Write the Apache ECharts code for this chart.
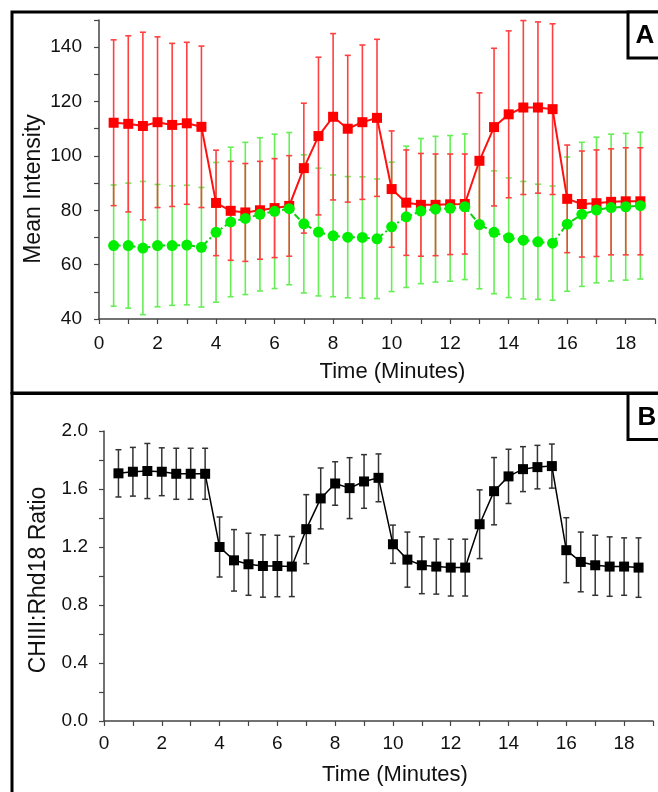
<!DOCTYPE html>
<html>
<head>
<meta charset="utf-8">
<script src="https://cdn.jsdelivr.net/npm/echarts@6/dist/echarts.min.js"></script>
<style>
  html, body { margin: 0; padding: 0; background: #fff; }
  #chart { width: 658px; height: 792px; }
</style>
</head>
<body>
<div id="chart"></div>
<script>
// time points (minutes)
const time = [0.5, 1, 1.5, 2, 2.5, 3, 3.5, 4, 4.5, 5, 5.5, 6, 6.5, 7, 7.5, 8, 8.5, 9, 9.5,
  10, 10.5, 11, 11.5, 12, 12.5, 13, 13.5, 14, 14.5, 15, 15.5, 16, 16.5, 17, 17.5, 18, 18.5];

// panel A - red (squares)
const redMean = [112.2, 111.8, 111.0, 112.4, 111.4, 112.0, 110.7, 82.7, 79.8, 79.2, 80.0, 80.8, 81.6,
  95.5, 107.3, 114.4, 110.0, 112.4, 114.0, 87.8, 82.8, 82.0, 82.0, 82.2, 82.3, 98.2, 110.6,
  115.3, 117.8, 117.8, 117.2, 84.2, 82.3, 82.6, 83.1, 83.3, 83.3];
const redErr = [30.5, 32.4, 34.5, 31.4, 30.0, 29.8, 29.7, 19.4, 18.2, 18.0, 18.0, 18.2, 18.5,
  23.9, 29.0, 30.6, 27.0, 28.4, 28.9, 21.4, 19.4, 18.9, 18.7, 18.5, 18.4, 25.0, 29.0,
  30.7, 32.0, 31.5, 31.4, 19.8, 19.5, 19.6, 19.5, 19.7, 19.7];

// panel A - green (circles)
const greenMean = [67.0, 67.0, 66.1, 67.0, 67.0, 67.2, 66.4, 71.9, 75.7, 77.0, 78.5, 79.6, 80.6,
  75.0, 72.0, 70.6, 70.1, 70.0, 69.5, 73.9, 77.6, 79.7, 80.4, 80.7, 81.3, 74.8, 71.9,
  69.9, 69.0, 68.4, 67.9, 74.9, 78.5, 80.1, 81.0, 81.3, 81.7];
const greenErr = [22.3, 23.0, 24.5, 22.5, 22.0, 22.0, 22.0, 25.7, 27.5, 28.0, 28.2, 28.4, 28.0,
  25.4, 23.5, 22.4, 22.3, 22.3, 22.0, 23.8, 26.0, 26.7, 26.8, 26.8, 26.8, 23.7, 22.6,
  22.0, 21.6, 21.2, 21.0, 24.7, 26.5, 26.8, 27.0, 27.0, 27.0];

// panel B - ratio
const ratioMean = [1.708, 1.719, 1.724, 1.719, 1.705, 1.705, 1.705, 1.200, 1.108, 1.081, 1.069, 1.069, 1.065,
  1.323, 1.535, 1.638, 1.606, 1.652, 1.677, 1.219, 1.113, 1.074, 1.065, 1.058, 1.058, 1.357, 1.585,
  1.687, 1.737, 1.751, 1.758, 1.178, 1.097, 1.074, 1.065, 1.065, 1.058];
const ratioErr = [0.163, 0.168, 0.190, 0.165, 0.176, 0.176, 0.176, 0.207, 0.212, 0.214, 0.215, 0.212, 0.207,
  0.238, 0.210, 0.150, 0.210, 0.185, 0.165, 0.132, 0.190, 0.196, 0.190, 0.196, 0.196, 0.237, 0.232,
  0.187, 0.155, 0.150, 0.152, 0.224, 0.206, 0.207, 0.205, 0.198, 0.205];

const FONT = "'Liberation Sans', Arial, sans-serif";

function pairs(ys) {
  return time.map((t, i) => [t, ys[i]]);
}
function errData(mean, err) {
  return time.map((t, i) => [t, mean[i] - err[i], mean[i] + err[i]]);
}

// error bar drawn through the axis scales
function errorBar(color, width) {
  return function (params, api) {
    const x = api.value(0);
    const lo = api.coord([x, api.value(1)]);
    const hi = api.coord([x, api.value(2)]);
    const hw = 3;
    const style = { stroke: color, lineWidth: width };
    return {
      type: "group",
      children: [
        { type: "line", shape: { x1: hi[0], y1: hi[1], x2: lo[0], y2: lo[1] }, style },
        { type: "line", shape: { x1: hi[0] - hw, y1: hi[1], x2: hi[0] + hw, y2: hi[1] }, style },
        { type: "line", shape: { x1: lo[0] - hw, y1: lo[1], x2: lo[0] + hw, y2: lo[1] }, style },
      ],
    };
  };
}

function xAxisCfg(gridIndex, labelMargin, nameGap, pad) {
  return {
    type: "value",
    gridIndex,
    min: 0,
    max: 19,
    interval: 1,
    name: "Time (Minutes)",
    nameLocation: "middle",
    nameGap,
    nameMoveOverlap: false,
    nameTextStyle: { fontFamily: FONT, fontSize: 22, color: "#111", padding: [0, 0, 0, pad] },
    axisLine: { lineStyle: { color: "#444", width: 1.5 } },
    axisTick: { length: 5, lineStyle: { color: "#444", width: 1.2 } },
    axisLabel: {
      fontFamily: FONT, fontSize: 19, color: "#111", margin: labelMargin,
      formatter: (v) => (Math.round(v) % 2 === 0 ? String(v) : ""),
    },
    splitLine: { show: false },
  };
}

const option = {
  animation: false,
  backgroundColor: "#fff",
  grid: [
    { left: 99, right: 2, top: 20, bottom: 473 },
    { left: 104, right: 5, top: 431, bottom: 71 },
  ],
  xAxis: [xAxisCfg(0, 15, 42, 31), xAxisCfg(1, 13, 43, 33)],
  yAxis: [
    {
      type: "value",
      gridIndex: 0,
      min: 40,
      max: 150,
      interval: 10,
      offset: 2,
      name: "Mean Intensity",
      nameLocation: "middle",
      nameGap: 52,
      nameMoveOverlap: false,
      nameTextStyle: { fontFamily: FONT, fontSize: 23, color: "#111", padding: [0, 39, 0, 0] },
      axisLine: { show: true, lineStyle: { color: "#444", width: 1.5 } },
      axisTick: { show: true, length: 5, lineStyle: { color: "#444", width: 1.2 } },
      axisLabel: {
        fontFamily: FONT, fontSize: 19, color: "#111", margin: 15,
        formatter: (v) => (Math.round(v) % 20 === 0 && v < 150 ? String(v) : ""),
      },
      splitLine: { show: false },
    },
    {
      type: "value",
      gridIndex: 1,
      min: 0,
      max: 2,
      interval: 0.2,
      offset: 4,
      name: "CHIII:Rhd18 Ratio",
      nameLocation: "middle",
      nameGap: 50,
      nameMoveOverlap: false,
      nameTextStyle: { fontFamily: FONT, fontSize: 23, color: "#111", padding: [0, 8, 0, 0] },
      axisLine: { show: true, lineStyle: { color: "#444", width: 1.5 } },
      axisTick: { show: true, length: 5, lineStyle: { color: "#444", width: 1.2 } },
      axisLabel: {
        fontFamily: FONT, fontSize: 19, color: "#111", margin: 12,
        formatter: (v) => (Math.round(v * 10) % 4 === 0 ? v.toFixed(1) : ""),
      },
      splitLine: { show: false },
    },
  ],
  series: [
    {
      type: "custom",
      xAxisIndex: 0, yAxisIndex: 0, z: 1,
      renderItem: errorBar("#66ee55", 1.6),
      encode: { x: 0, y: [1, 2] },
      data: errData(greenMean, greenErr),
    },
    {
      type: "custom",
      xAxisIndex: 0, yAxisIndex: 0, z: 2,
      renderItem: errorBar("#ff4040", 1.6),
      encode: { x: 0, y: [1, 2] },
      data: errData(redMean, redErr),
    },
    {
      type: "line",
      xAxisIndex: 0, yAxisIndex: 0, z: 3,
      data: pairs(redMean),
      symbol: "rect",
      symbolSize: 10,
      itemStyle: { color: "#ff0000" },
      lineStyle: { color: "#ff1010", width: 2 },
    },
    {
      type: "line",
      xAxisIndex: 0, yAxisIndex: 0, z: 4,
      data: pairs(greenMean),
      symbol: "circle",
      symbolSize: 11,
      itemStyle: { color: "#00ee00" },
      lineStyle: { color: "#10d010", width: 2, type: [7, 3, 2, 3] },
    },
    {
      type: "custom",
      xAxisIndex: 1, yAxisIndex: 1, z: 1,
      renderItem: errorBar("#333", 1.5),
      encode: { x: 0, y: [1, 2] },
      data: errData(ratioMean, ratioErr),
    },
    {
      type: "line",
      xAxisIndex: 1, yAxisIndex: 1, z: 3,
      data: pairs(ratioMean),
      symbol: "rect",
      symbolSize: 10,
      itemStyle: { color: "#000" },
      lineStyle: { color: "#000", width: 1.5 },
    },
  ],
  graphic: [
    { type: "rect", shape: { x: 12, y: 12, width: 700, height: 381 }, style: { fill: null, stroke: "#000", lineWidth: 3 }, z: 10 },
    { type: "rect", shape: { x: 12, y: 393.5, width: 700, height: 450 }, style: { fill: null, stroke: "#000", lineWidth: 3 }, z: 10 },
    { type: "rect", shape: { x: 628, y: 12, width: 60, height: 46 }, style: { fill: "#fff", stroke: "#000", lineWidth: 3 }, z: 10 },
    { type: "text", x: 645, y: 36, style: { text: "A", font: "bold 26px " + FONT, fill: "#000", align: "center", verticalAlign: "middle" }, z: 11 },
    { type: "rect", shape: { x: 628, y: 393.5, width: 60, height: 46 }, style: { fill: "#fff", stroke: "#000", lineWidth: 3 }, z: 10 },
    { type: "text", x: 647, y: 418, style: { text: "B", font: "bold 26px " + FONT, fill: "#000", align: "center", verticalAlign: "middle" }, z: 11 },
  ],
};

const chart = echarts.init(document.getElementById("chart"));
chart.setOption(option);
</script>
</body>
</html>
